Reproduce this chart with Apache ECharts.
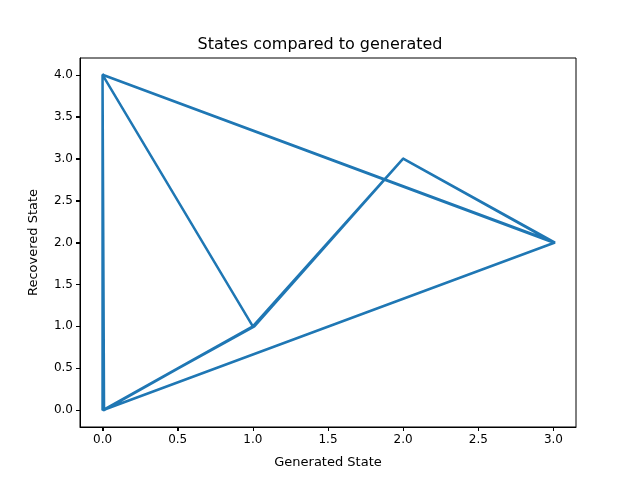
<!DOCTYPE html>
<html lang="en">
<head>
    <meta charset="UTF-8">
    <title>States compared to generated</title>
</head>
<style>
    html, body {
        margin: 0;
        padding: 0;
        background: #fff;
    }
    #main {
        width: 640px;
        height: 480px;
    }
</style>
<body>
<div id="main"></div>
</body>
<script src="https://cdn.jsdelivr.net/npm/echarts@6/dist/echarts.min.js"></script>
<script>
    // generated state vs recovered state, in the order they were plotted
    var generated = [0, 1, 2, 3, 0, 0, 1, 0, 0, 3.01, 0, 1.01, 2, 3.01, 0, 0.01, 1];
    var recovered = [0, 1, 3, 2, 4, 4, 1, 0, 4, 2, 0, 1, 3, 2, 4, 0, 1];
    var tickX = [0, 0.5, 1, 1.5, 2, 2.5, 3];
    var tickY = [0, 0.5, 1, 1.5, 2, 2.5, 3, 3.5, 4];

    var points = [];
    for (var i = 0; i < generated.length; i++) {
        points.push([generated[i], recovered[i]]);
    }

    var font = 'DejaVu Sans';
    var myChart = echarts.init(document.getElementById('main'));

    // the main axes carry the data; a second pair of axes over the same range
    // only draws the ticks, starting at 0 so the steps of 0.5 land on round values
    function tickAxis(ticks, lo, hi) {
        return {
            type: 'value',
            min: lo,
            max: hi,
            splitLine: {show: false},
            axisLine: {show: true, onZero: false, lineStyle: {color: '#000', width: 1}},
            axisTick: {
                show: true,
                inside: false,
                customValues: ticks,
                length: 4,
                lineStyle: {color: '#000', width: 1}
            },
            axisLabel: {
                customValues: ticks,
                fontFamily: font,
                fontSize: 12,
                color: '#000',
                margin: 7,
                formatter: function (v) { return v.toFixed(1); }
            }
        };
    }

    var xAx = tickAxis(tickX, -0.15, 3.15);
    xAx.name = 'Generated State';
    xAx.nameLocation = 'middle';
    xAx.nameGap = 29;
    xAx.nameTextStyle = {fontFamily: font, fontSize: 13, color: '#000'};

    var yAx = tickAxis(tickY, -0.2, 4.2);
    yAx.name = 'Recovered State';
    yAx.nameLocation = 'middle';
    yAx.nameGap = 40;
    yAx.nameTextStyle = {fontFamily: font, fontSize: 13, color: '#000'};

    var option = {
        backgroundColor: '#fff',
        animation: false,
        title: {
            text: 'States compared to generated',
            left: 'center',
            top: 32,
            textStyle: {
                fontFamily: font,
                fontSize: 16,
                fontWeight: 'normal',
                color: '#000'
            }
        },
        grid: {
            left: 80,
            right: 64,
            top: 58,
            bottom: 53,
            show: true,
            borderColor: '#000',
            borderWidth: 1,
            backgroundColor: '#fff'
        },
        xAxis: xAx,
        yAxis: yAx,
        series: [{
            type: 'line',
            data: points,
            showSymbol: false,
            symbol: 'none',
            lineStyle: {color: '#1f77b4', width: 2.5},
            z: 3
        }]
    };
    myChart.setOption(option);

    // draw tick marks by hand from the axis scale, in case the custom ticks are not drawn
    function drawTicks() {
        var g = [];
        var x0 = myChart.convertToPixel({xAxisIndex: 0}, -0.15);
        var yBottom = myChart.convertToPixel({yAxisIndex: 0}, -0.2);
        tickX.forEach(function (v) {
            var px = Math.round(myChart.convertToPixel({xAxisIndex: 0}, v)) + 0.5;
            g.push({type: 'line', shape: {x1: px, y1: yBottom, x2: px, y2: yBottom + 4},
                style: {stroke: '#000', lineWidth: 1}, silent: true});
        });
        tickY.forEach(function (v) {
            var py = Math.round(myChart.convertToPixel({yAxisIndex: 0}, v)) + 0.5;
            g.push({type: 'line', shape: {x1: x0 - 4, y1: py, x2: x0, y2: py},
                style: {stroke: '#000', lineWidth: 1}, silent: true});
        });
        myChart.setOption({graphic: g});
    }
    drawTicks();
</script>
</html>
